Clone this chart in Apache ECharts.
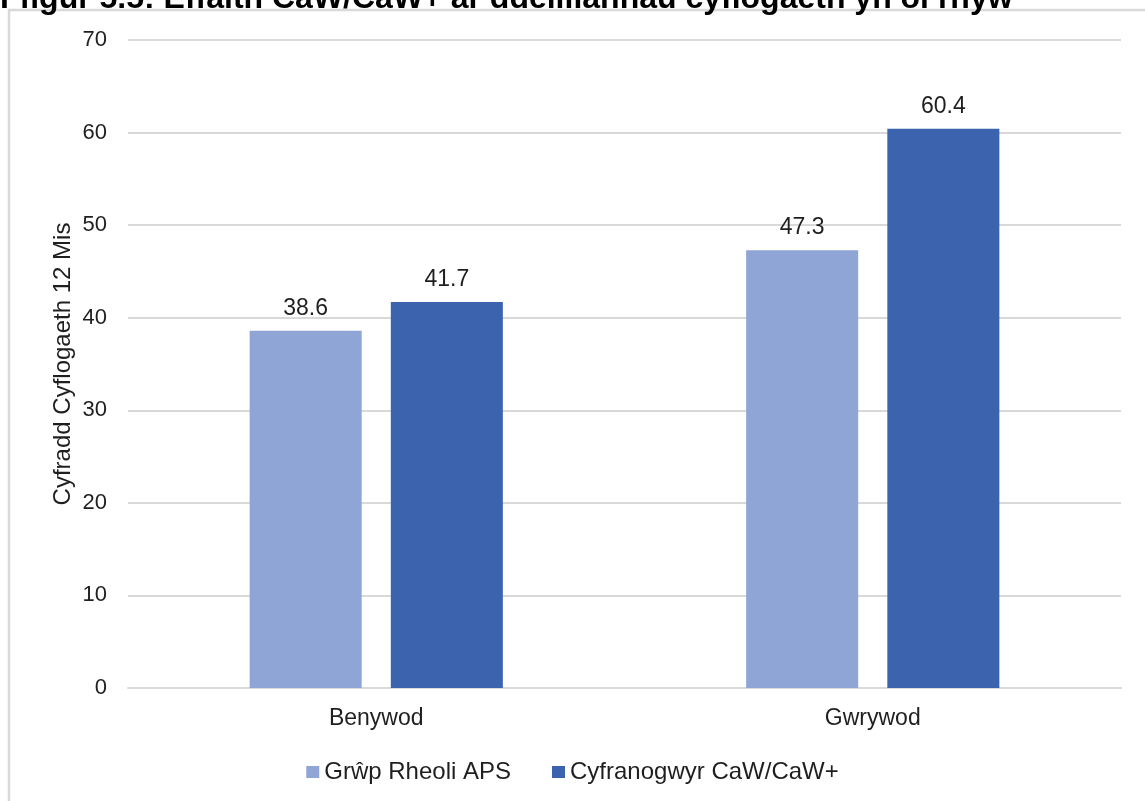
<!DOCTYPE html>
<html>
<head>
<meta charset="utf-8">
<script src="https://cdn.jsdelivr.net/npm/echarts@6/dist/echarts.min.js"></script>
<style>
html,body{margin:0;padding:0;background:#fff;}
#chart{width:1145px;height:801px;}
</style>
</head>
<body>
<div id="chart"></div>
<script>
const categories = ['Benywod', 'Gwrywod'];
const seriesNames = ['Grŵp Rheoli APS', 'Cyfranogwyr CaW/CaW+'];
const controlValues = [38.6, 47.3];
const participantValues = [41.7, 60.4];
const yTicks = [0, 10, 20, 30, 40, 50, 60, 70];
const titleText = 'Ffigur 5.5: Effaith CaW/CaW+ ar ddeilliannau cyflogaeth yn ôl rhyw';
const yAxisTitle = 'Cyfradd Cyflogaeth 12 Mis';

const font = 'Liberation Sans, Arial, sans-serif';
const chart = echarts.init(document.getElementById('chart'));
const labelStyle = {show: true, position: 'top', distance: 11, fontSize: 23, color: '#1f1f1f', fontFamily: font};
chart.setOption({
  animation: false,
  textStyle: {fontFamily: font},
  graphic: [
    {type: 'rect', shape: {x: 9, y: 10, width: 1300, height: 900}, style: {fill: 'none', stroke: '#D9D9D9', lineWidth: 2.5}, silent: true},
    {type: 'text', x: 0, y: -17, style: {text: titleText, font: 'bold 32px Liberation Sans, Arial, sans-serif', fill: '#000', verticalAlign: 'top'}}
  ],
  grid: {left: 128, right: 24, top: 40, bottom: 113},
  legend: {
    top: 755, left: 'center', itemWidth: 13, itemHeight: 12, itemGap: 41,
    icon: 'rect',
    textStyle: {fontSize: 24, color: '#1f1f1f', fontFamily: font},
    data: seriesNames
  },
  xAxis: {
    type: 'category', data: categories,
    axisLine: {lineStyle: {color: '#D9D9D9', width: 2}},
    axisTick: {show: false},
    axisLabel: {fontSize: 23, color: '#1f1f1f', margin: 19, fontFamily: font}
  },
  yAxis: {
    type: 'value', min: yTicks[0], max: yTicks[yTicks.length - 1], interval: 10,
    name: yAxisTitle, nameLocation: 'middle', nameGap: 53, nameMoveOverlap: false,
    nameTextStyle: {fontSize: 24, color: '#1f1f1f', fontFamily: font},
    axisLine: {show: false}, axisTick: {show: false},
    axisLabel: {fontSize: 22, color: '#1f1f1f', margin: 21, fontFamily: font},
    splitLine: {lineStyle: {color: '#D9D9D9', width: 2}}
  },
  series: [
    {name: seriesNames[0], type: 'bar', data: controlValues, itemStyle: {color: '#8FA5D6'}, barGap: '26%', barCategoryGap: '49%', label: labelStyle},
    {name: seriesNames[1], type: 'bar', data: participantValues, itemStyle: {color: '#3C64AE'}, label: labelStyle}
  ]
});
</script>
</body>
</html>
